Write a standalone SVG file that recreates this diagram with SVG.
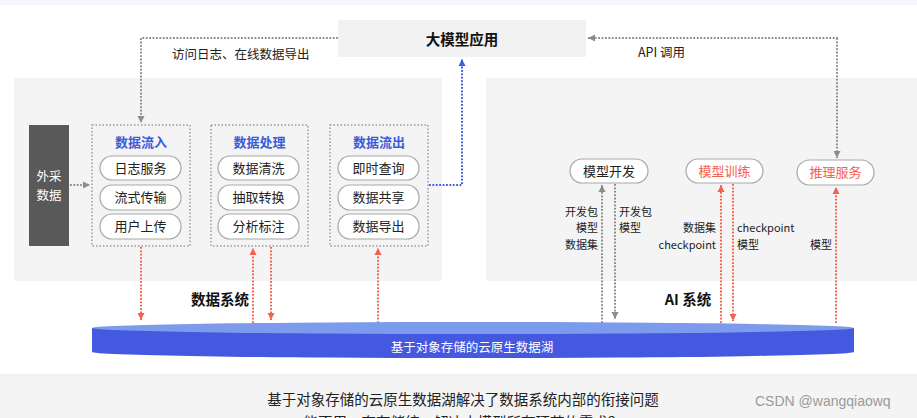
<svg xmlns="http://www.w3.org/2000/svg" width="917" height="418" viewBox="0 0 917 418">
<style>
text{font-family:"Noto Sans CJK SC","Noto Sans",sans-serif;}
.panel{fill:#f4f4f4;}
.grp{fill:none;stroke:#9a9a9a;stroke-width:1.5;stroke-dasharray:1.5 2;}
.pill{fill:#fff;stroke:#a8a8a8;stroke-width:1.2;}
.pt{font-size:13px;fill:#222;text-anchor:middle;}
.title{font-size:13px;font-weight:bold;fill:#3b5bdb;text-anchor:middle;}
.lbl{font-size:11px;fill:#222;}
.gray{fill:none;stroke:#8c8c8c;stroke-width:2;stroke-dasharray:1.8 1.6;}
.red{fill:none;stroke:#f3614f;stroke-width:2;stroke-dasharray:1.8 1.6;}
.blue{fill:none;stroke:#3d5ee0;stroke-width:2;stroke-dasharray:1.8 1.6;}
.big{font-size:14.5px;font-weight:bold;fill:#111;text-anchor:middle;}
</style>
<defs>
<marker id="ag" markerUnits="userSpaceOnUse" markerWidth="8" markerHeight="8" refX="7" refY="4" orient="auto"><path d="M0,0.5 L7,4 L0,7.5 z" fill="#8c8c8c"/></marker>
<marker id="ar" markerUnits="userSpaceOnUse" markerWidth="8" markerHeight="8" refX="7" refY="4" orient="auto"><path d="M0,0.5 L7,4 L0,7.5 z" fill="#f3614f"/></marker>
<marker id="ab" markerUnits="userSpaceOnUse" markerWidth="8" markerHeight="8" refX="7" refY="4" orient="auto"><path d="M0,0.5 L7,4 L0,7.5 z" fill="#3d5ee0"/></marker>
</defs>
<rect x="0" y="0" width="917" height="418" fill="#fff"/>
<rect x="0" y="0" width="917" height="5" fill="#f3f6fb"/>
<rect x="0" y="375" width="917" height="43" fill="#f4f4f4"/>
<line x1="0" y1="375" x2="917" y2="375" stroke="#e6e9ef" stroke-width="1"/>

<rect class="panel" x="14" y="78" width="428" height="203"/>
<rect class="panel" x="486" y="78" width="431" height="203"/>

<g id="app">
<rect x="338" y="20" width="248" height="37" fill="#f2f2f2"/>
<text class="big" x="462" y="45">大模型应用</text>
</g>

<g id="ext">
<rect x="29" y="125" width="40" height="121" fill="#595959"/>
<text x="49" y="181" font-size="12.5" fill="#fff" text-anchor="middle">外采</text>
<text x="49" y="200" font-size="12.5" fill="#fff" text-anchor="middle">数据</text>
</g>

<g id="inflow">
<rect class="grp" x="92" y="125" width="98" height="121"/>
<text class="title" x="141" y="147">数据流入</text>
<rect class="pill" x="100" y="156" width="81" height="24" rx="12"/>
<text class="pt" x="140.5" y="172.5">日志服务</text>
<rect class="pill" x="100" y="185" width="81" height="25" rx="12"/>
<text class="pt" x="140.5" y="202">流式传输</text>
<rect class="pill" x="100" y="214" width="81" height="25" rx="12"/>
<text class="pt" x="140.5" y="231">用户上传</text>
</g>

<g id="process">
<rect class="grp" x="211" y="125" width="97" height="121"/>
<text class="title" x="259.5" y="147">数据处理</text>
<rect class="pill" x="218" y="156" width="81" height="24" rx="12"/>
<text class="pt" x="258.5" y="172.5">数据清洗</text>
<rect class="pill" x="218" y="185" width="81" height="25" rx="12"/>
<text class="pt" x="258.5" y="202">抽取转换</text>
<rect class="pill" x="218" y="214" width="81" height="25" rx="12"/>
<text class="pt" x="258.5" y="231">分析标注</text>
</g>

<g id="outflow">
<rect class="grp" x="330" y="125" width="98" height="121"/>
<text class="title" x="379" y="147">数据流出</text>
<rect class="pill" x="338" y="156" width="81" height="24" rx="12"/>
<text class="pt" x="378.5" y="172.5">即时查询</text>
<rect class="pill" x="338" y="185" width="81" height="25" rx="12"/>
<text class="pt" x="378.5" y="202">数据共享</text>
<rect class="pill" x="338" y="214" width="81" height="25" rx="12"/>
<text class="pt" x="378.5" y="231">数据导出</text>
</g>

<g id="dev">
<rect class="pill" x="570" y="159" width="78" height="24" rx="12"/>
<text class="pt" x="609" y="175.5">模型开发</text>
</g>
<g id="train">
<rect class="pill" x="686" y="159" width="77" height="24" rx="12"/>
<text class="pt" x="724.5" y="175.5" style="fill:#f3614f">模型训练</text>
</g>
<g id="infer">
<rect class="pill" x="797" y="160" width="77" height="25" rx="12.5"/>
<text class="pt" x="835.5" y="177" style="fill:#f3614f">推理服务</text>
</g>

<g id="connectors">
<path class="gray" d="M338,38 H141 V123" marker-end="url(#ag)"/>
<path class="gray" d="M838,38 H588" marker-end="url(#ag)"/>
<path class="gray" d="M837,38 V158" marker-end="url(#ag)"/>
<path class="gray" d="M70,185 H90" marker-end="url(#ag)"/>
<path class="blue" d="M429,185 H462 V59" marker-end="url(#ab)"/>
<path class="red" d="M141,247 V320" marker-end="url(#ar)"/>
<path class="red" d="M253,323 V248" marker-end="url(#ar)"/>
<path class="red" d="M271,247 V320" marker-end="url(#ar)"/>
<path class="red" d="M378,323 V248" marker-end="url(#ar)"/>
<path class="gray" d="M602,323 V185" marker-end="url(#ag)"/>
<path class="gray" d="M615,184 V319" marker-end="url(#ag)"/>
<path class="red" d="M721,323 V185" marker-end="url(#ar)"/>
<path class="red" d="M733,184 V321" marker-end="url(#ar)"/>
<path class="red" d="M836,323 V187" marker-end="url(#ar)"/>
</g>

<g id="labels">
<text x="172" y="59" font-size="12.5" fill="#222">访问日志、在线数据导出</text>
<text x="638" y="57" font-size="12.5" fill="#222">API 调用</text>
<text class="lbl" x="598" y="216" text-anchor="end">开发包</text>
<text class="lbl" x="598" y="232" text-anchor="end">模型</text>
<text class="lbl" x="598" y="249" text-anchor="end">数据集</text>
<text class="lbl" x="619" y="216">开发包</text>
<text class="lbl" x="619" y="232">模型</text>
<text class="lbl" x="716" y="232" text-anchor="end">数据集</text>
<text class="lbl" x="716" y="249" text-anchor="end">checkpoint</text>
<text class="lbl" x="737" y="232">checkpoint</text>
<text class="lbl" x="737" y="249">模型</text>
<text class="lbl" x="832" y="249" text-anchor="end">模型</text>
<text class="big" x="220" y="305">数据系统</text>
<text class="big" x="688" y="305">AI 系统</text>
</g>

<g id="lake">
<path d="M92,328 L92,352 A381,6 0 0 0 854,352 L854,328 Z" fill="#4458e0"/>
<ellipse cx="473" cy="328" rx="381" ry="6" fill="#7d9bec"/>
<text x="472" y="352" font-size="12.5" fill="#fff" text-anchor="middle">基于对象存储的云原生数据湖</text>
</g>

<text x="463" y="405" font-size="14.5" fill="#222" text-anchor="middle">基于对象存储的云原生数据湖解决了数据系统内部的衔接问题</text>
<text x="463" y="428" font-size="14.5" fill="#222" text-anchor="middle">能否用一套存储统一解决大模型所有环节的需求？</text>
<text x="755" y="406" font-size="14" fill="#9a9a9a" style="font-family:'Liberation Sans',sans-serif">CSDN @wangqiaowq</text>
</svg>
